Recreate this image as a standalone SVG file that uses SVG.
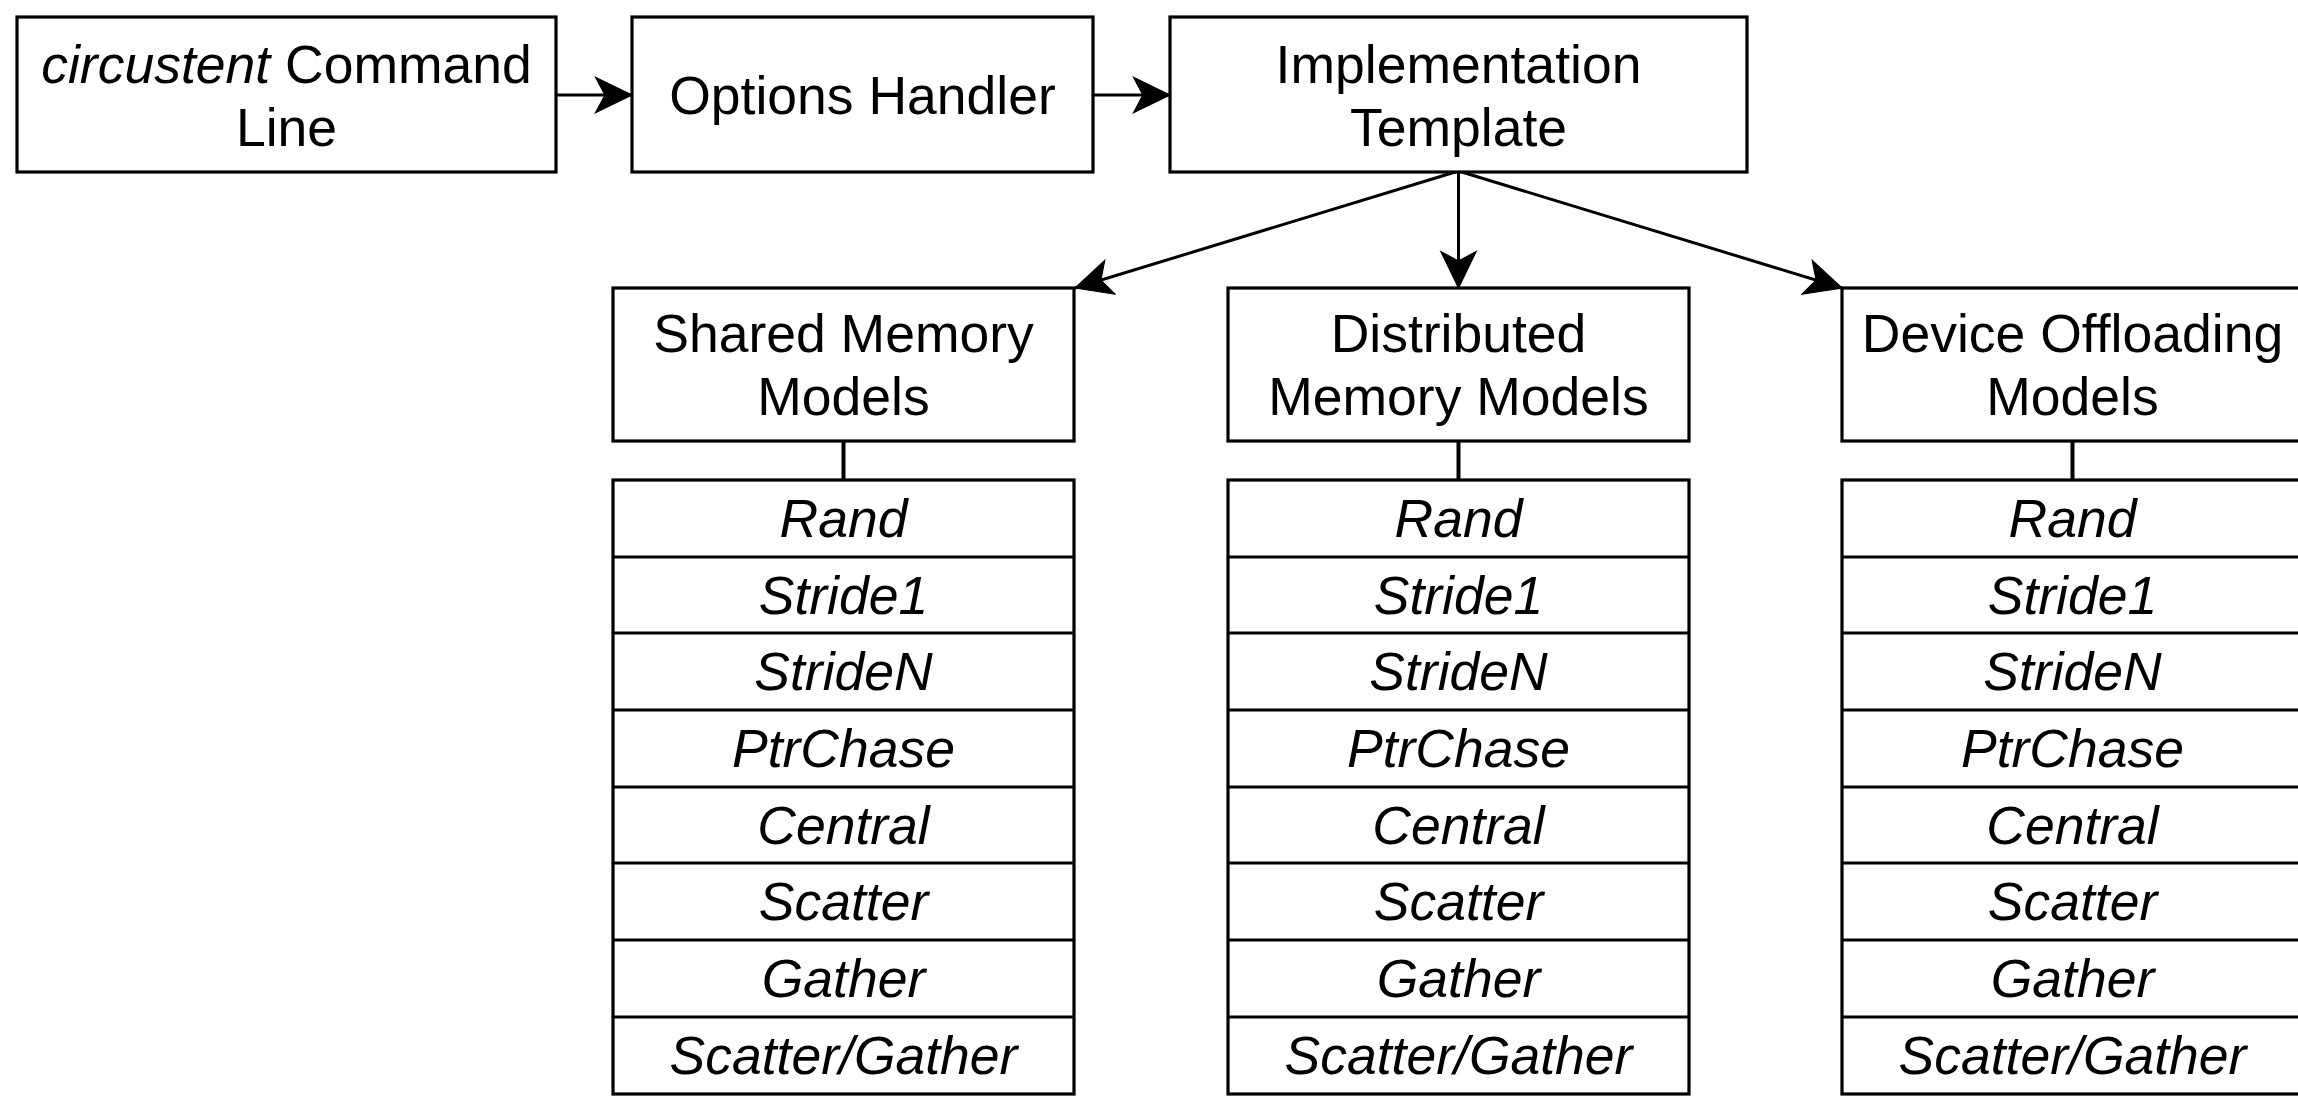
<svg xmlns="http://www.w3.org/2000/svg" width="2298" height="1097" viewBox="0 0 2298 1097">
  <style>
    .box { fill: #ffffff; stroke: #000000; stroke-width: 3.2; }
    .row { fill: none; stroke: #000000; stroke-width: 3.2; }
    .lbl { font-family: "Liberation Sans", Arial, Helvetica, sans-serif; font-size: 53.5px; fill: #000000; text-anchor: middle; }
    .it { font-style: italic; }
    .edge { fill: none; stroke: #000000; stroke-width: 3; }
    .tie { fill: none; stroke: #000000; stroke-width: 4; }
  </style>
  <defs>
    <marker id="arrow" markerUnits="userSpaceOnUse" markerWidth="40" markerHeight="40" viewBox="-32 -16 34 32" refX="0" refY="0" orient="auto">
      <path d="M0,0 L-31,-15 L-23,0 L-31,15 Z" fill="#000000" stroke="#000000" stroke-width="1"/>
    </marker>
    <!-- list of access patterns shared by the three model tables -->
    <g id="patterns">
      <rect class="box" x="0" y="0" width="461" height="614"/>
      <path class="row" d="M0,77 H461 M0,153 H461 M0,230 H461 M0,307 H461 M0,383 H461 M0,460 H461 M0,537 H461"/>
      <g class="lbl it">
        <text x="230.5" y="57">Rand</text>
        <text x="230.5" y="134">Stride1</text>
        <text x="230.5" y="210">StrideN</text>
        <text x="230.5" y="287">PtrChase</text>
        <text x="230.5" y="364">Central</text>
        <text x="230.5" y="440">Scatter</text>
        <text x="230.5" y="517">Gather</text>
        <text x="230.5" y="594">Scatter/Gather</text>
      </g>
    </g>
  </defs>

  <rect width="2298" height="1097" fill="#ffffff"/>

  <!-- connectors -->
  <g id="connectors">
    <line class="edge" x1="556" y1="95" x2="632" y2="95" marker-end="url(#arrow)"/>
    <line class="edge" x1="1093" y1="95" x2="1170" y2="95" marker-end="url(#arrow)"/>
    <line class="edge" x1="1458.5" y1="171" x2="1075" y2="288" marker-end="url(#arrow)"/>
    <line class="edge" x1="1458.5" y1="171" x2="1458.5" y2="288" marker-end="url(#arrow)"/>
    <line class="edge" x1="1458.5" y1="171" x2="1842" y2="288" marker-end="url(#arrow)"/>
    <line class="tie" x1="843.5" y1="441" x2="843.5" y2="480"/>
    <line class="tie" x1="1458.5" y1="441" x2="1458.5" y2="480"/>
    <line class="tie" x1="2072.5" y1="441" x2="2072.5" y2="480"/>
  </g>

  <g id="command-line">
    <rect class="box" x="17" y="17" width="539" height="155"/>
    <text class="lbl" x="286.5" y="83"><tspan class="it">circustent</tspan> Command</text>
    <text class="lbl" x="286.5" y="146">Line</text>
  </g>

  <g id="options-handler">
    <rect class="box" x="632" y="17" width="461" height="155"/>
    <text class="lbl" x="862.5" y="114">Options Handler</text>
  </g>

  <g id="implementation-template">
    <rect class="box" x="1170" y="17" width="577" height="155"/>
    <text class="lbl" x="1458.5" y="83">Implementation</text>
    <text class="lbl" x="1458.5" y="146">Template</text>
  </g>

  <g id="shared-memory">
    <rect class="box" x="613" y="288" width="461" height="153"/>
    <text class="lbl" x="843.5" y="352">Shared Memory</text>
    <text class="lbl" x="843.5" y="415">Models</text>
  </g>
  <g id="shared-memory-patterns">
    <use href="#patterns" x="613" y="480"/>
  </g>

  <g id="distributed-memory">
    <rect class="box" x="1228" y="288" width="461" height="153"/>
    <text class="lbl" x="1458.5" y="352">Distributed</text>
    <text class="lbl" x="1458.5" y="415">Memory Models</text>
  </g>
  <g id="distributed-memory-patterns">
    <use href="#patterns" x="1228" y="480"/>
  </g>

  <g id="device-offloading">
    <rect class="box" x="1842" y="288" width="461" height="153"/>
    <text class="lbl" x="2072.5" y="352">Device Offloading</text>
    <text class="lbl" x="2072.5" y="415">Models</text>
  </g>
  <g id="device-offloading-patterns">
    <use href="#patterns" x="1842" y="480"/>
  </g>
</svg>
